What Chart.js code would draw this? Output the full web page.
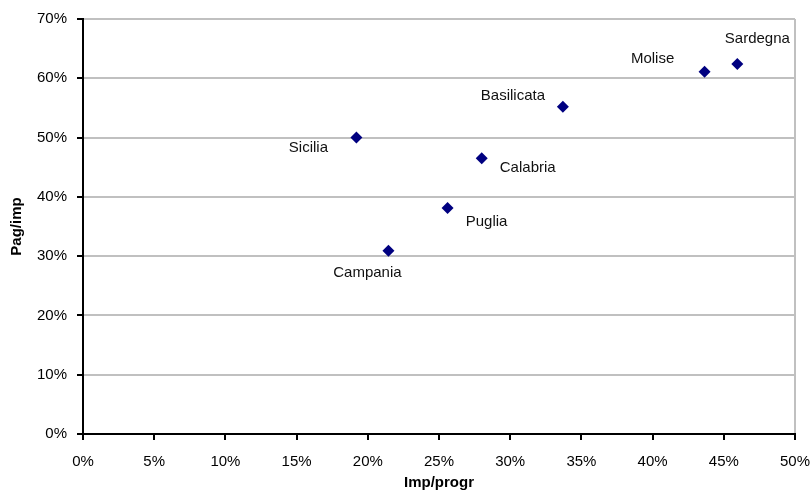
<!DOCTYPE html>
<html>
<head>
<meta charset="utf-8">
<script src="https://cdn.jsdelivr.net/npm/chart.js@4.4.0/dist/chart.umd.min.js"></script>
<style>
  html, body { margin: 0; padding: 0; background: #fff; }
  #wrap { width: 812px; height: 498px; }
</style>
</head>
<body>
<div id="wrap"><canvas id="chart"></canvas></div>
<script>
// Regioni e rapporti (in frazione)
const regioni = ["Sicilia", "Campania", "Puglia", "Calabria", "Basilicata", "Molise", "Sardegna"];
const impProgr = [0.192, 0.2145, 0.256, 0.280, 0.337, 0.4365, 0.4595];
const pagImp = [0.500, 0.309, 0.381, 0.465, 0.552, 0.611, 0.624];

// spostamento delle etichette rispetto al punto
const labelOffsets = [[-48, 10], [-21, 22], [39, 14], [46, 10], [-50, -11], [-52, -13], [20, -25]];

const punti = regioni.map((r, i) => ({ x: impProgr[i], y: pagImp[i] }));

const FONT = "'Liberation Sans', Arial, sans-serif";
const GRIGIO = "#c0c0c0";

const etichettePlugin = {
  id: "etichette",
  afterDatasetsDraw(chart) {
    const ctx = chart.ctx;
    const meta = chart.getDatasetMeta(0);
    ctx.save();
    ctx.font = "15px " + FONT;
    ctx.fillStyle = "#111";
    ctx.textAlign = "center";
    ctx.textBaseline = "middle";
    meta.data.forEach((pt, i) => {
      const [dx, dy] = labelOffsets[i];
      ctx.fillText(regioni[i], pt.x + dx, pt.y + dy);
    });
    ctx.restore();
  }
};

const pct = (v) => Math.round(v * 100) + "%";

new Chart(document.querySelector("#chart"), {
  type: "scatter",
  data: {
    datasets: [{
      data: punti,
      pointStyle: "rectRot",
      pointRadius: 6,
      pointHoverRadius: 6,
      backgroundColor: "#000080",
      borderColor: "#000080",
      borderWidth: 0
    }]
  },
  options: {
    responsive: true,
    maintainAspectRatio: false,
    animation: false,
    layout: { padding: { top: 19, right: 17, left: 0, bottom: 0 } },
    plugins: {
      legend: { display: false },
      tooltip: { enabled: false }
    },
    scales: {
      x: {
        type: "linear",
        min: 0,
        max: 0.5,
        afterFit: (s) => { s.height = 64; s.paddingLeft = 0; s.paddingRight = 0; },
        ticks: {
          stepSize: 0.05,
          callback: pct,
          color: "#000",
          padding: 13,
          maxRotation: 0,
          font: { family: FONT, size: 15 }
        },
        grid: {
          color: (c) => (c.tick && Math.abs(c.tick.value - 0.5) < 1e-9 ? GRIGIO : "rgba(0,0,0,0)"),
          lineWidth: 2,
          tickColor: "#000",
          tickLength: 6
        },
        border: { color: "#000", width: 2 },
        title: {
          display: true,
          text: "Imp/progr",
          color: "#000",
          font: { family: FONT, size: 15, weight: "bold" },
          padding: { top: 0, bottom: 6 }
        }
      },
      y: {
        min: 0,
        max: 0.7,
        afterFit: (s) => { s.width = 83; s.paddingTop = 0; s.paddingBottom = 0; },
        ticks: {
          stepSize: 0.1,
          callback: pct,
          color: "#000",
          padding: 10,
          font: { family: FONT, size: 15 }
        },
        grid: {
          color: GRIGIO,
          lineWidth: 2,
          tickColor: "#000",
          tickLength: 6
        },
        border: { color: "#000", width: 2 },
        title: {
          display: true,
          text: "Pag/imp",
          color: "#000",
          font: { family: FONT, size: 15, weight: "bold" },
          padding: { top: 8, bottom: 0 }
        }
      }
    }
  },
  plugins: [etichettePlugin]
});
</script>
</body>
</html>
